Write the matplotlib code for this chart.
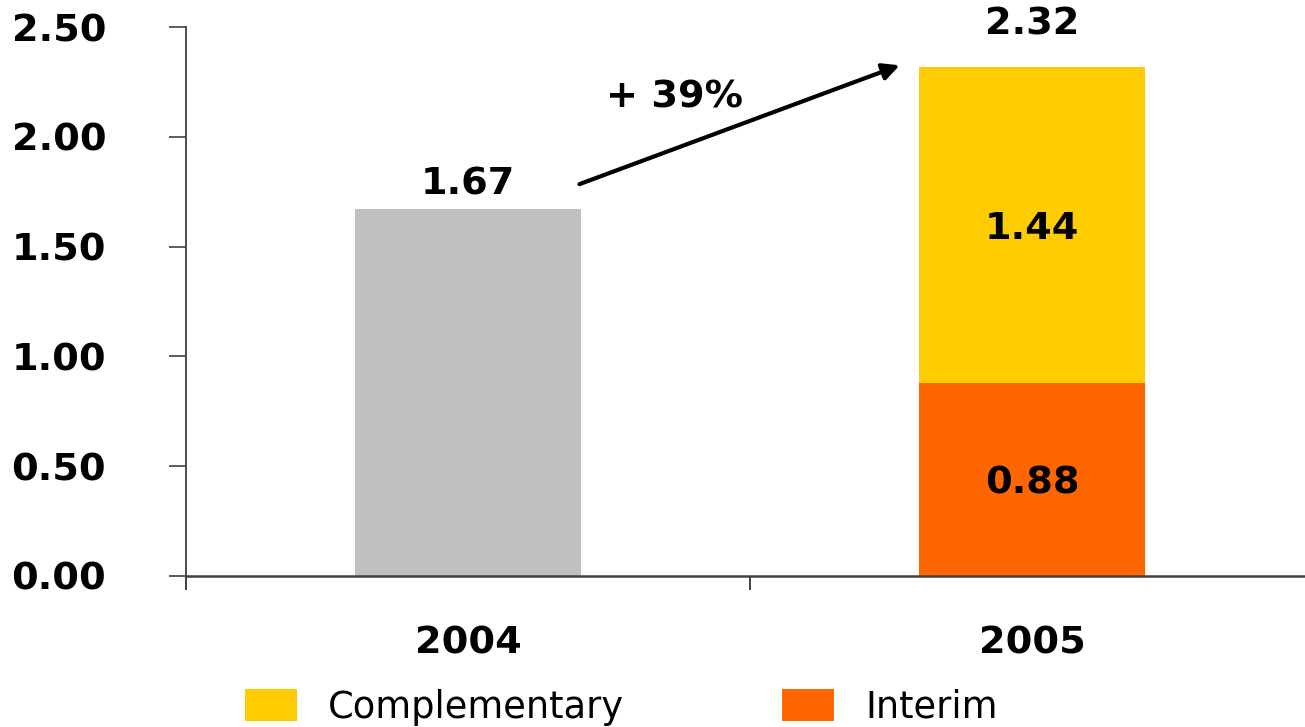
import numpy as np
import matplotlib.pyplot as plt

years = ["2004", "2005"]
total_2004 = [1.67, 0.0]
interim = [0.0, 0.88]
complementary = [0.0, 1.44]
growth = "+ 39%"

grey = "#C0C0C0"
yellow = "#FFCC00"
orange = "#FF6600"

plt.rcParams['font.family'] = ['DejaVu Sans']
fs = 27.5

fig = plt.figure(figsize=(13.05, 7.27), dpi=100)
ax = fig.add_axes([186/1305, 151/727, 1128/1305, 549/727])

x = np.arange(len(years))
w = 0.4
ax.bar(x[0], total_2004[0], width=w, color=grey)
ax.bar(x[1], interim[1], width=w, color=orange, label="Interim")
ax.bar(x[1], complementary[1], width=w, bottom=interim[1], color=yellow, label="Complementary")

ax.set_xlim(-0.5, 1.5)
ax.set_ylim(0, 2.5)
ax.set_yticks(np.arange(0, 2.51, 0.5))
ax.set_yticklabels([f"{v:.2f}" for v in np.arange(0, 2.51, 0.5)], fontsize=fs, fontweight="bold")
ax.tick_params(axis="y", length=12.5, width=1.2, pad=45, color="#404040")
ax.set_xticks(x)
ax.set_xticklabels(years, fontsize=fs, fontweight="bold")
ax.tick_params(axis="x", length=0, pad=36)
ax.set_xticks([-0.5, 0.5, 1.5], minor=True)
ax.tick_params(axis="x", which="minor", length=10, width=1.2, color="#202020", direction="out")

for s in ["top", "right"]:
    ax.spines[s].set_visible(False)
ax.spines["left"].set_color("#404040")
ax.spines["left"].set_linewidth(1.3)
ax.spines["bottom"].set_color("#404040")
ax.spines["bottom"].set_linewidth(1.8)

# value labels
total_2005 = interim[1] + complementary[1]
ax.text(x[0], total_2004[0] + 0.03, f"{total_2004[0]:.2f}", ha="center", va="bottom",
        fontsize=fs, fontweight="bold")
ax.text(x[1], total_2005 + 0.11, f"{total_2005:.2f}", ha="center", va="bottom",
        fontsize=fs, fontweight="bold")
ax.text(x[1], interim[1] + complementary[1] / 2 - 0.02, f"{complementary[1]:.2f}", ha="center",
        va="center", fontsize=fs, fontweight="bold")
ax.text(x[1], interim[1] / 2 - 0.02, f"{interim[1]:.2f}", ha="center", va="center",
        fontsize=fs, fontweight="bold")

# growth arrow
ax.annotate("", xy=(x[1] - w/2 - 0.03, total_2005 + 0.01),
            xytext=(x[0] + w/2 - 0.007, total_2004[0] + 0.11),
            arrowprops=dict(arrowstyle="-|>", color="black", lw=3, mutation_scale=25,
                            facecolor="white"))
ax.text(0.367, 2.18, growth, ha="center", va="center", fontsize=fs, fontweight="bold")

h, l = ax.get_legend_handles_labels()
fig.legend(h[::-1], l[::-1], loc="center left", bbox_to_anchor=(245/1305, 20/727),
           ncol=2, frameon=False, fontsize=26.5, handlelength=1.41, handleheight=0.95,
           handletextpad=0.84, columnspacing=4.3, borderpad=0, borderaxespad=0)

fig.savefig("out.png", dpi=100)
